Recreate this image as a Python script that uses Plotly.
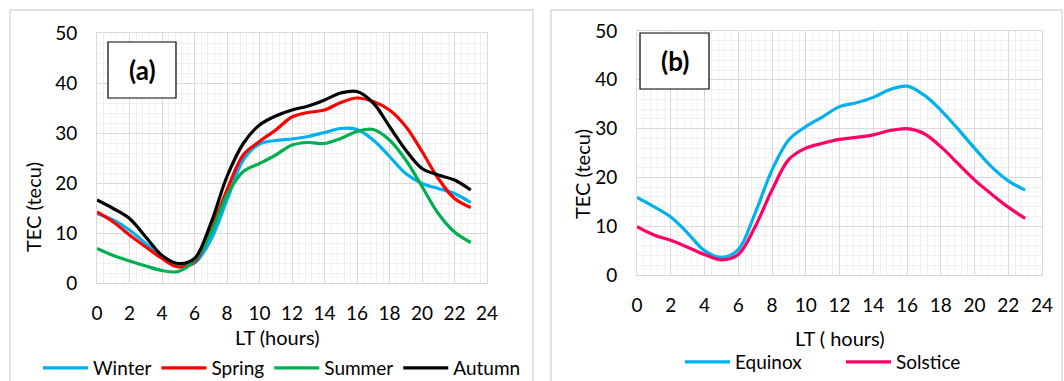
import plotly.graph_objects as go

hours = list(range(24))

winter = [13.9, 12.6, 10.6, 7.9, 5.2, 3.4, 4.0, 8.6, 16.6, 24.6, 27.8, 28.5, 28.8, 29.3, 30.1, 30.9,
          30.7, 28.6, 25.3, 21.9, 19.9, 18.9, 17.9, 16.1]
spring = [14.2, 12.2, 9.6, 7.2, 4.9, 3.2, 4.2, 10.6, 18.6, 25.6, 28.3, 30.6, 33.2, 34.1, 34.6, 36.1,
          37.0, 36.3, 34.6, 31.3, 26.3, 20.9, 16.9, 15.1]
summer = [6.9, 5.5, 4.4, 3.4, 2.5, 2.3, 4.5, 9.9, 17.6, 22.3, 23.9, 25.6, 27.6, 28.1, 27.9, 28.9,
          30.3, 30.7, 28.6, 24.6, 19.3, 13.9, 10.2, 8.1]
autumn = [16.6, 14.9, 12.9, 9.2, 5.5, 3.9, 4.9, 11.9, 21.3, 27.9, 31.6, 33.4, 34.6, 35.4, 36.6, 38.0,
          38.3, 36.0, 31.3, 26.6, 22.9, 21.6, 20.6, 18.6]

equinox = [15.9, 14.0, 11.9, 8.6, 5.0, 3.6, 5.2, 12.7, 21.5, 27.7, 30.4, 32.4, 34.5, 35.3, 36.4, 38.0,
           38.7, 36.9, 33.8, 30.0, 26.0, 22.2, 19.3, 17.4]
solstice = [9.9, 8.2, 7.1, 5.7, 4.2, 3.1, 4.2, 9.9, 17.4, 23.7, 26.0, 27.0, 27.8, 28.2, 28.7, 29.6,
            30.0, 29.0, 26.3, 22.9, 19.5, 16.6, 13.9, 11.6]

x_ticks = list(range(0, 25, 2))
y_ticks = list(range(0, 51, 10))

W, H = 1064, 381
FONT = "Lato"

def px(x):
    return x / W

def py(y):
    return 1 - y / H

fig = go.Figure()

series_a = [("Winter", winter, "#00B0F0"), ("Spring", spring, "#FF0000"),
            ("Summer", summer, "#00B050"), ("Autumn", autumn, "#000000")]
for name, vals, col in series_a:
    fig.add_trace(go.Scatter(x=hours, y=vals, name=name, mode="lines",
                             line=dict(color=col, width=3.2, shape="spline"),
                             xaxis="x", yaxis="y", legend="legend"))

series_b = [("Equinox", equinox, "#00B0F0"), ("Solstice", solstice, "#FF0066")]
for name, vals, col in series_b:
    fig.add_trace(go.Scatter(x=hours, y=vals, name=name, mode="lines",
                             line=dict(color=col, width=3.2, shape="spline"),
                             xaxis="x2", yaxis="y2", legend="legend2"))

axis_common = dict(showline=True, mirror=True, linecolor="#D9D9D9", linewidth=1,
                   gridcolor="#D9D9D9", gridwidth=1, zeroline=False, ticks="",
                   automargin=False,
                   tickfont=dict(family=FONT, size=19, color="#000000"))

xa = dict(axis_common, range=[0, 24], tickvals=x_ticks, ticklabelstandoff=13,
          minor=dict(dtick=0.4, showgrid=True, gridcolor="#F0F0F0", gridwidth=1, tick0=0))
ya = dict(axis_common, range=[0, 50], tickvals=y_ticks, ticklabelstandoff=15,
          minor=dict(dtick=2, showgrid=True, gridcolor="#F0F0F0", gridwidth=1, tick0=0))

fig.update_layout(
    width=W, height=H,
    margin=dict(l=0, r=0, t=0, b=0, autoexpand=False),
    paper_bgcolor="white", plot_bgcolor="white",
    font=dict(family=FONT, size=18, color="#000000"),
    xaxis=dict(xa, domain=[px(97), px(487)], anchor="y"),
    yaxis=dict(ya, domain=[py(283), py(33)], anchor="x"),
    xaxis2=dict(xa, domain=[px(637), px(1042)], anchor="y2"),
    yaxis2=dict(ya, domain=[py(275), py(31)], anchor="x2"),
    legend=dict(orientation="h", x=px(38), y=py(368), xanchor="left", yanchor="middle",
                font=dict(family=FONT, size=19), itemwidth=45, bgcolor="rgba(0,0,0,0)",
                tracegroupgap=0),
    legend2=dict(orientation="h", x=px(680), y=py(362), xanchor="left", yanchor="middle",
                 font=dict(family=FONT, size=19), itemwidth=45, bgcolor="rgba(0,0,0,0)",
                 entrywidth=101, entrywidthmode="pixels"),
    showlegend=True,
)

shapes = [
    # panel outlines
    dict(type="rect", xref="paper", yref="paper", x0=px(10), x1=px(533), y0=py(390), y1=py(10),
         line=dict(color="#D9D9D9", width=1.5), layer="below"),
    dict(type="rect", xref="paper", yref="paper", x0=px(551), x1=px(1062), y0=py(390), y1=py(10),
         line=dict(color="#D9D9D9", width=1.5), layer="below"),
    # label boxes
    dict(type="rect", xref="paper", yref="paper", x0=px(108), x1=px(176), y0=py(98), y1=py(42),
         line=dict(color="#000000", width=1.2), fillcolor="white"),
    dict(type="rect", xref="paper", yref="paper", x0=px(640), x1=px(709), y0=py(89), y1=py(33),
         line=dict(color="#000000", width=1.2), fillcolor="white"),
]

annotations = [
    dict(text="<b>(a)</b>", x=px(142), y=py(70), xref="paper", yref="paper", showarrow=False,
         font=dict(family=FONT, size=26), xanchor="center", yanchor="middle"),
    dict(text="<b>(b)</b>", x=px(674.5), y=py(61), xref="paper", yref="paper", showarrow=False,
         font=dict(family=FONT, size=26), xanchor="center", yanchor="middle"),
    dict(text="LT (hours)", x=px(277), y=py(337), xref="paper", yref="paper", showarrow=False,
         font=dict(family=FONT, size=20), xanchor="center", yanchor="middle"),
    dict(text="LT ( hours)", x=px(840), y=py(338), xref="paper", yref="paper", showarrow=False,
         font=dict(family=FONT, size=20), xanchor="center", yanchor="middle"),
    dict(text="TEC (tecu)", x=px(33), y=py(207), xref="paper", yref="paper", showarrow=False,
         font=dict(family=FONT, size=20), xanchor="center", yanchor="middle", textangle=-90),
    dict(text="TEC (tecu)", x=px(582), y=py(174), xref="paper", yref="paper", showarrow=False,
         font=dict(family=FONT, size=20), xanchor="center", yanchor="middle", textangle=-90),
]

fig.update_layout(shapes=shapes, annotations=annotations)

fig.write_html("out.html")
